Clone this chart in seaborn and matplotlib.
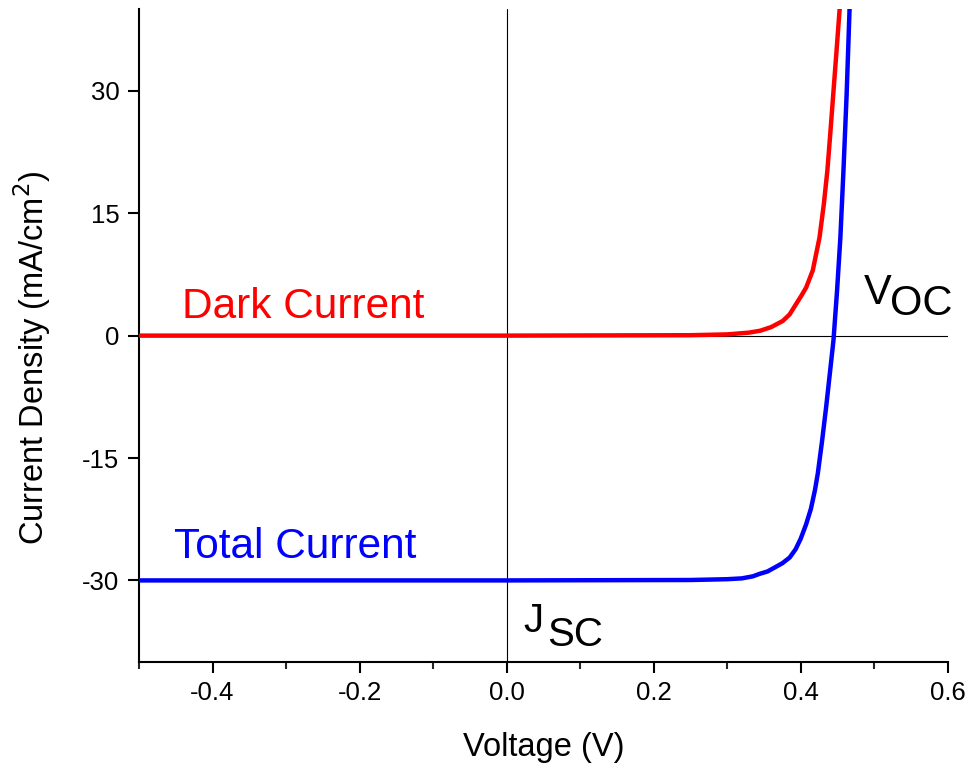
import pandas as pd
import matplotlib
matplotlib.use("Agg")
import matplotlib.pyplot as plt
import seaborn as sns
from matplotlib.ticker import MultipleLocator

# values
dark_voltage = [-0.5, 0.0, 0.25, 0.30, 0.33, 0.345, 0.36, 0.3757, 0.385, 0.394,
                0.401, 0.4075, 0.4165, 0.4256, 0.4315, 0.4363, 0.4405, 0.4445,
                0.4488, 0.453, 0.4555]
dark_current = [0, 0, 0.05, 0.15, 0.37, 0.6, 1.05, 1.8, 2.6, 3.9,
                4.9, 5.9, 8.0, 12.0, 16.1, 20.2, 25.0, 29.8,
                34.9, 40.0, 43.0]

total_voltage = [-0.5, 0.0, 0.25, 0.30, 0.32, 0.335, 0.344, 0.355, 0.365, 0.375,
                 0.385, 0.393, 0.4, 0.4075, 0.414, 0.4195, 0.4233, 0.429, 0.4346,
                 0.4395, 0.4446, 0.4495, 0.454, 0.4582, 0.4625, 0.4665, 0.468]
total_current = [-30, -30, -29.95, -29.85, -29.75, -29.5, -29.2, -28.9, -28.4, -27.9,
                 -27.2, -26.2, -24.9, -23.1, -21.2, -18.9, -16.9, -13.0, -8.8,
                 -4.8, -0.6, 5.5, 12.0, 20.2, 29.5, 40.0, 43.5]

x_ticks = [-0.4, -0.2, 0.0, 0.2, 0.4, 0.6]
y_ticks = [-30, -15, 0, 15, 30]

dark_df = pd.DataFrame({"Voltage": dark_voltage, "Current": dark_current})
total_df = pd.DataFrame({"Voltage": total_voltage, "Current": total_current})

sns.set_style("ticks")
plt.rcParams["font.family"] = ["Liberation Sans", "DejaVu Sans"]

fig = plt.figure(figsize=(9.72, 7.68), dpi=100)
ax = fig.add_axes([0.143, 0.138, 0.832, 0.850])

# thin zero lines
ax.axhline(0, color="black", lw=0.8, zorder=1)
ax.axvline(0, color="black", lw=0.8, zorder=1)

sns.lineplot(data=dark_df, x="Voltage", y="Current", color="#ff0000", lw=3.2,
             sort=False, ax=ax, zorder=3)
sns.lineplot(data=total_df, x="Voltage", y="Current", color="#0000ff", lw=3.2,
             sort=False, ax=ax, zorder=3)

ax.set_xlim(-0.5, 0.6)
ax.set_ylim(-40, 40)
ax.set_xticks(x_ticks)
ax.set_xticklabels([f"{v:.1f}" for v in x_ticks])
ax.set_yticks(y_ticks)
ax.set_yticklabels([str(v) for v in y_ticks])
ax.xaxis.set_minor_locator(MultipleLocator(0.1))

for side in ["top", "right"]:
    ax.spines[side].set_visible(False)
for side in ["left", "bottom"]:
    ax.spines[side].set_linewidth(1.5)
    ax.spines[side].set_color("black")

ax.tick_params(axis="both", which="major", direction="out", length=8, width=1.5,
               labelsize=18.5, colors="black", pad=6)
ax.tick_params(axis="x", which="minor", direction="out", length=5, width=1.5)

ax.set_xlabel("Voltage (V)", fontsize=23.5, color="black")
ax.set_ylabel("Current Density (mA/cm$^2$)", fontsize=23.5, color="black")
ax.xaxis.set_label_coords(0.5, -0.107)
ax.yaxis.set_label_coords(-0.106, 0.467)

# annotations
ax.text(-0.442, 2.2, "Dark Current", color="#ff0000", fontsize=30.5, ha="left", va="baseline")
ax.text(-0.452, -27.3, "Total Current", color="#0000ff", fontsize=30.5, ha="left", va="baseline")
ax.text(0.486, 3.9, "V", color="black", fontsize=30, ha="left", va="baseline")
ax.text(0.521, 2.5, "OC", color="black", fontsize=30, ha="left", va="baseline")
ax.text(0.023, -36.3, "J", color="black", fontsize=29, ha="left", va="baseline")
ax.text(0.055, -38.0, "SC", color="black", fontsize=29, ha="left", va="baseline")

fig.savefig("out.png", dpi=100, facecolor="white")
